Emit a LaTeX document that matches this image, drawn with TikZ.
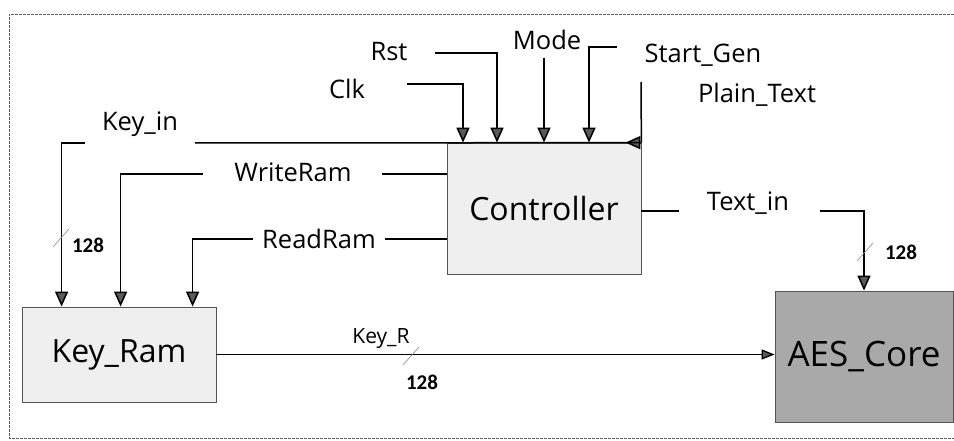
\documentclass[tikz,border=0pt]{standalone}
\usepackage{fontspec}
\setmainfont{Open Sans}
\newfontfamily\numfont{Carlito}
\usetikzlibrary{arrows.meta}
\definecolor{blockgray}{HTML}{EFEFEF}
\definecolor{coregray}{HTML}{A9A9A9}
\definecolor{edgegray}{HTML}{555555}
\definecolor{tipgray}{HTML}{5A5A5A}
\definecolor{slashgray}{HTML}{8A8A8A}
\definecolor{framegray}{HTML}{5A5A5A}

\begin{document}
\begin{tikzpicture}[x=1pt, y=-1pt,
  block/.style={draw=edgegray, line width=0.8pt, fill=blockgray, inner sep=0pt, font=\fontsize{32}{36}\selectfont},
  wire/.style={line width=1.5pt},
  sig/.style={wire, -{Triangle[width=13pt, length=15pt, fill=tipgray]}},
  lbl/.style={inner sep=0pt, font=\fontsize{25.5}{28}\selectfont},
  buswidth/.style={inner sep=0pt, font=\numfont\bfseries\fontsize{21}{24}\selectfont},
  busmark/.style={slashgray, line width=0.6pt}
]

  \useasboundingbox (0,0) rectangle (954,441);

  % Outer frame (right side cut off)
  \draw[framegray, line width=0.8pt, dash pattern=on 3pt off 1pt] (954,14) -- (9,14) -- (9,438) -- (954,438);

  % Blocks
  \node[block, minimum width=194pt, minimum height=131pt] (ctrl) at (544,208.5) {Controller};
  \node[block, minimum width=194pt, minimum height=95pt] (kram) at (119,354.5) {Key\_Ram};
  \node[block, fill=coregray, minimum width=178pt, minimum height=131pt, font=\fontsize{35}{40}\selectfont] (core) at (864,356.5) {AES\_Core};

  % Control inputs from the top
  \node[lbl] (rst) at (389,52) {Rst};
  \node[lbl] (clk) at (347,89) {Clk};
  \node[lbl] (mode) at (547,40) {Mode};
  \node[lbl] (gen) at (703,55) {Start\_Gen};
  \node[lbl] (plain) at (757,95) {Plain\_Text};

  % name / start x / corner x / y
  \foreach \nm/\sx/\cx/\y in {clk/407/463/84, rst/435/497/53, mode/544/544/58, gen/617/589/47} {
    \coordinate (\nm s) at (\sx,\y);
    \coordinate (\nm c) at (\cx,\y);
    \draw[sig] (\nm s) -- (\nm c) -- (\nm c |- ctrl.north);
  }

  % Plain text comes down the right edge, turns left as Key_in
  \coordinate (plain s) at (641,82);
  \draw[wire] (plain s) -- (ctrl.north east);
  \draw[sig] (ctrl.north east) -- ++(-16,0);
  \node[lbl] (keyin) at (140,124) {Key\_in};
  \coordinate (kin r) at (195,143);
  \coordinate (kin l) at (85,143);
  \draw[wire] (ctrl.north east) -- (kin r);
  \draw[sig] (kin l) -| ([xshift=40pt]kram.north west);

  % RAM control lines
  \node[lbl] (wram) at (293,172) {WriteRam};
  \coordinate (wr r) at (382,174);
  \coordinate (wr l) at (203,174);
  \draw[wire] (ctrl.west |- wr r) -- (wr r);
  \draw[sig] (wr l) -| ([xshift=99pt]kram.north west);

  \node[lbl] (rram) at (319,239) {ReadRam};
  \coordinate (rr r) at (385,239);
  \coordinate (rr l) at (253,239);
  \draw[wire] (ctrl.west |- rr r) -- (rr r);
  \draw[sig] (rr l) -| ([xshift=171pt]kram.north west);

  % Text to the core
  \node[lbl] (txtin) at (748,203) {Text\_in};
  \coordinate (ti l) at (679,211);
  \coordinate (ti r) at (820,211);
  \draw[wire] (ctrl.east |- ti l) -- (ti l);
  \draw[sig] (ti r) -| (core.north);

  % Key from RAM to core
  \node[inner sep=0pt, font=\fontsize{21}{24}\selectfont] (keyr) at (381,339) {Key\_R};
  \draw[wire, line width=1.3pt, -{Triangle[width=10pt, length=13pt, fill=tipgray]}] (kram.east) -- (kram.east -| core.west);

  % Bus width marks: slash x / y / name / label x / y
  \foreach \bx/\by/\bw/\lx/\ly in {61/238/kin/88/245, 865/252/ti/901/252, 411/356/kr/422/382} {
    \draw[busmark] (\bx-8,\by+9) -- (\bx+8,\by-9);
    \node[buswidth] (bw \bw) at (\lx,\ly) {128};
  }

\end{tikzpicture}
\end{document}
